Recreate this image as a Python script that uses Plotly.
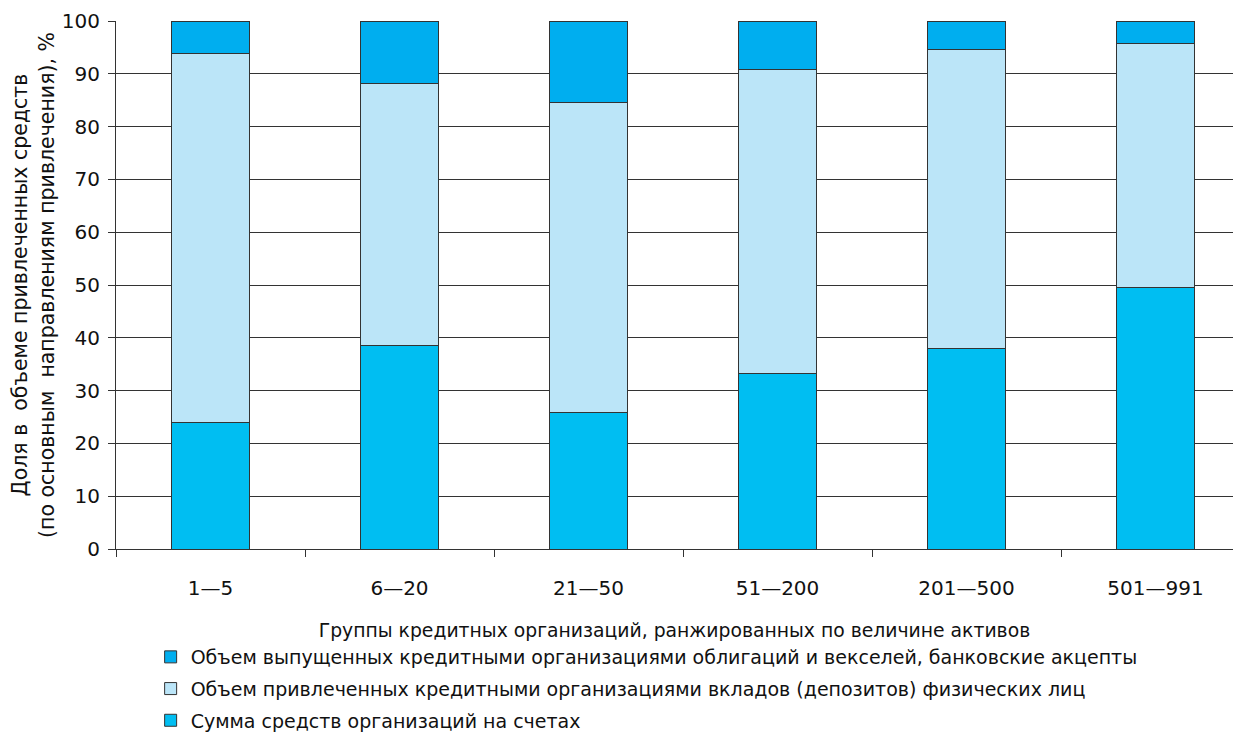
import plotly.graph_objects as go

categories = ["1—5", "6—20", "21—50", "51—200", "201—500", "501—991"]
accounts = [24.0, 38.6, 25.8, 33.3, 37.9, 49.6]
deposits = [69.9, 49.6, 58.7, 57.6, 56.7, 46.2]
bonds = [6.1, 11.8, 15.5, 9.1, 5.4, 4.2]

names = [
    "Объем выпущенных кредитными организациями облигаций и векселей, банковские акцепты",
    "Объем привлеченных кредитными организациями вкладов (депозитов) физических лиц",
    "Сумма средств организаций на счетах",
]
FONT = "DejaVu Sans, sans-serif"
TXT = "#111111"

fig = go.Figure()
series = [
    (names[2], accounts, "#00BEF2", "g3", 3),
    (names[1], deposits, "#BBE5F8", "g2", 2),
    (names[0], bonds, "#00AEEF", "g1", 1),
]
for name, vals, col, grp, rank in series:
    fig.add_trace(go.Bar(
        x=categories, y=vals, name=name,
        marker=dict(color=col, line=dict(color="#333333", width=1)),
        legendgroup=grp, legendrank=rank,
    ))

fig.update_layout(
    width=1225, height=724,
    barmode="stack", bargap=0.585,
    margin=dict(l=108, r=0, t=13, b=183, autoexpand=False),
    plot_bgcolor="white", paper_bgcolor="white",
    font=dict(family=FONT, size=19, color=TXT),
    legend=dict(
        x=0.031, xanchor="left", y=-0.1686, yanchor="top",
        orientation="v", traceorder="grouped", tracegroupgap=4,
        font=dict(family=FONT, size=19, color=TXT),
        itemwidth=30, bgcolor="rgba(0,0,0,0)",
    ),
    xaxis=dict(
        range=[-0.5, 5.41],
        showline=True, linecolor="#333333", linewidth=1,
        ticks="outside", tickson="boundaries", ticklen=7, tickcolor="#333333",
        tickfont=dict(family=FONT, size=20, color=TXT),
        ticklabelstandoff=21,
        title=dict(text="Группы кредитных организаций, ранжированных по величине активов",
                   font=dict(family=FONT, size=18.8, color=TXT), standoff=24),
        automargin=False,
    ),
    yaxis=dict(
        range=[0, 100], dtick=10,
        showline=True, linecolor="#333333", linewidth=1,
        ticks="outside", ticklen=7, tickcolor="#333333",
        showgrid=True, gridcolor="#333333", gridwidth=1,
        zeroline=False,
        tickfont=dict(family=FONT, size=20, color=TXT),
        ticklabelstandoff=4,
        title=dict(text="Доля в  объеме привлеченных средств<br>(по основным  направлениям привлечения), %",
                   font=dict(family=FONT, size=20.5, color=TXT), standoff=3),
        automargin=False,
    ),
)

fig.write_html("out.html")
